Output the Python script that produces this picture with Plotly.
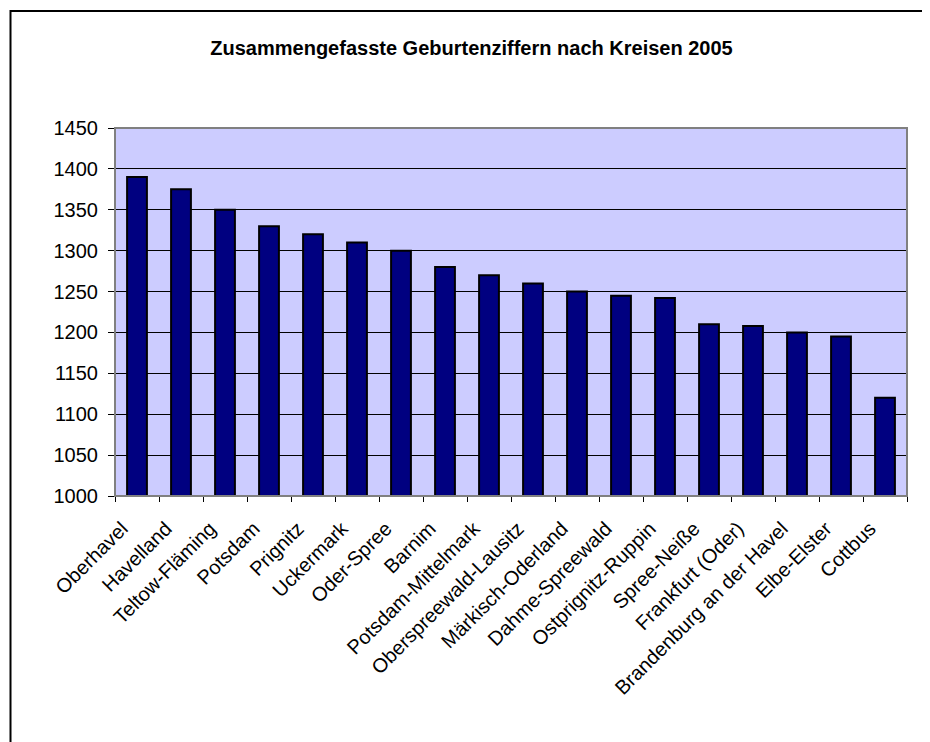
import plotly.graph_objects as go

categories = ["Oberhavel", "Havelland", "Teltow-Fläming", "Potsdam", "Prignitz",
              "Uckermark", "Oder-Spree", "Barnim", "Potsdam-Mittelmark",
              "Oberspreewald-Lausitz", "Märkisch-Oderland", "Dahme-Spreewald",
              "Ostprignitz-Ruppin", "Spree-Neiße", "Frankfurt (Oder)",
              "Brandenburg an der Havel", "Elbe-Elster", "Cottbus"]
values = [1390, 1375, 1350, 1330, 1320, 1310, 1300, 1280, 1270,
          1260, 1250, 1245, 1242, 1210, 1208, 1200, 1195, 1120]
y_ticks = [1000, 1050, 1100, 1150, 1200, 1250, 1300, 1350, 1400, 1450]
title_text = "Zusammengefasste Geburtenziffern nach Kreisen 2005"

OFF = 8  # page body margin
W, H = 930 - OFF, 742 - OFF
L, R, T, B = 115 - OFF, 23, 128 - OFF, 246
pw, ph = W - L - R, H - T - B

def px_x(p):
    return (p - OFF - L) / pw

def px_y(p):
    return (H - B - (p - OFF)) / ph

fig = go.Figure(go.Bar(
    x=categories, y=values,
    marker=dict(color="#000080", line=dict(color="#000000", width=2)),
))

fig.update_layout(
    width=W, height=H,
    margin=dict(l=L, r=R, t=T, b=B),
    paper_bgcolor="white",
    plot_bgcolor="#CCCCFF",
    bargap=0.55,
    showlegend=False,
    font=dict(family="Liberation Sans, Arial, sans-serif", size=20, color="black"),
    title=dict(text="<b>" + title_text + "</b>", x=(471.5 - OFF) / W, xanchor="center",
               xref="container", yref="container", y=1 - (48 - OFF) / H, yanchor="middle",
               font=dict(size=20, color="black")),
)
fig.update_yaxes(
    range=[1000, 1450], tickvals=y_ticks, ticks="outside", ticklen=6,
    tickcolor="black", showgrid=True, gridcolor="black", gridwidth=1,
    showline=True, linecolor="#404040", linewidth=1, zeroline=False,
    mirror=False, tickfont=dict(size=20), ticklabelstandoff=6,
)
fig.update_xaxes(
    tickangle=-45, ticks="outside", tickson="boundaries", ticklen=5,
    tickcolor="black", showline=True, linecolor="#404040", linewidth=1,
    tickfont=dict(size=20), ticklabelstandoff=12, ticklabelshift=-15,
)
# plot area border (gray)
fig.add_shape(type="rect", xref="paper", yref="paper", x0=0, x1=1, y0=0, y1=1,
              line=dict(color="#808080", width=2), fillcolor="rgba(0,0,0,0)", layer="above")
# outer chart border
fig.add_shape(type="rect", xref="paper", yref="paper",
              x0=px_x(10.5), x1=px_x(960), y0=px_y(770), y1=px_y(11),
              line=dict(color="black", width=2), fillcolor="rgba(0,0,0,0)")

fig.write_html("out.html")
